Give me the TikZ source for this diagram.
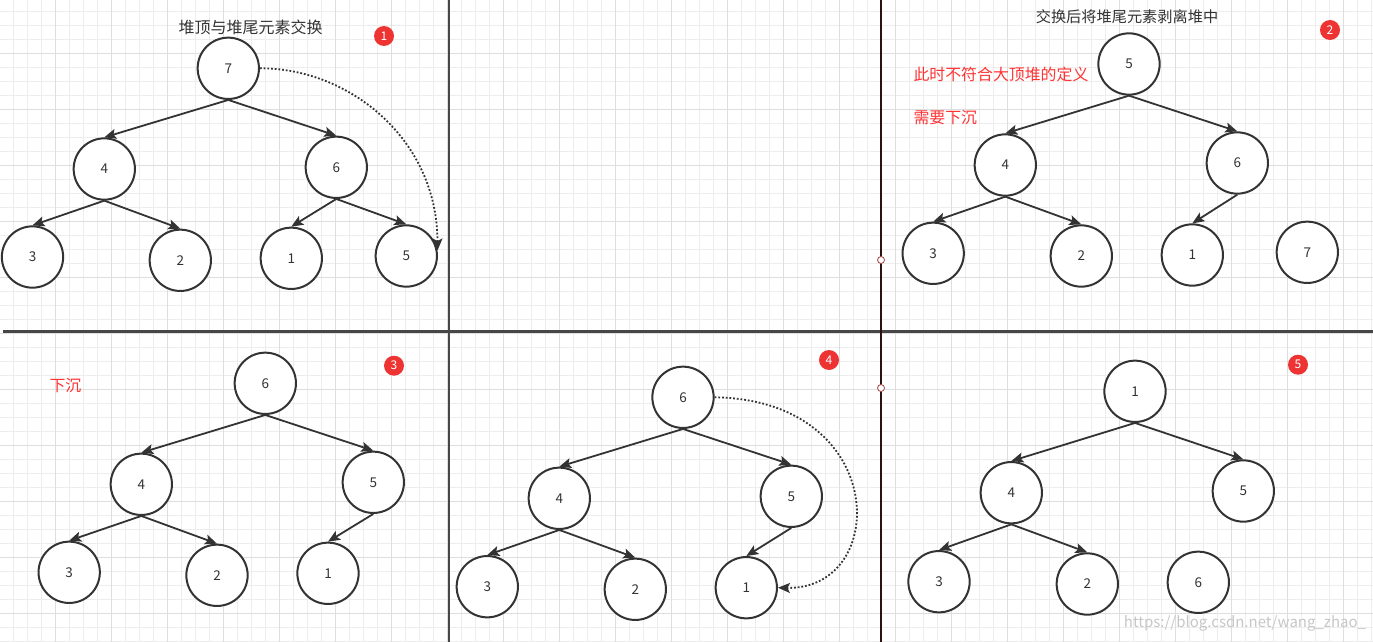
\documentclass[tikz,border=0pt]{standalone}
\usepackage{fontspec}
\setmainfont{Noto Sans CJK SC}
\usetikzlibrary{arrows.meta}
\definecolor{inkgray}{RGB}{51,51,51}
\definecolor{noteRed}{RGB}{255,51,51}
\definecolor{badgeRed}{RGB}{238,51,51}
\definecolor{gridMinor}{RGB}{237,237,237}
\definecolor{gridMajor}{RGB}{222,222,222}
\definecolor{pinRed}{RGB}{170,70,70}

\begin{document}
\begin{tikzpicture}
  [x=1pt,y=-1pt,
   heapnode/.style={circle,draw=inkgray,line width=2pt,fill=white,minimum size=61.3pt,inner sep=0pt,
     text=inkgray,font=\fontsize{13.5}{13.5}\selectfont},
   heaparrow/.style={draw=inkgray,line width=1.8pt,-{Stealth[length=12pt,width=10pt,inset=2.5pt]}},
   swaparrow/.style={draw=inkgray,line width=1.8pt,dash pattern=on 1.8pt off 1.9pt,
     -{Stealth[length=12pt,width=10pt,inset=2.5pt]}},
   badge/.style={circle,fill=badgeRed,minimum size=20pt,inner sep=0pt,text=white,font=\fontsize{12}{12}\selectfont},
   headline/.style={text=inkgray,font=\fontsize{15.5}{15.5}\selectfont},
   note/.style={text=noteRed,anchor=west,inner sep=0pt,font=\fontsize{15.9}{15.9}\selectfont}]

  \fill[white] (0,0) rectangle (1373,642);
  \useasboundingbox (0,0) rectangle (1373,642);

  \foreach \k in {1,...,98}
    \draw[gridMinor,line width=1pt] ({\k*14-0.7},0) -- ({\k*14-0.7},642);
  \foreach \k in {1,...,46}
    \draw[gridMinor,line width=1pt] (0,{\k*14-2.7}) -- (1373,{\k*14-2.7});
  \foreach \k in {4,8,...,96}
    \draw[gridMajor,line width=1pt] ({\k*14-0.7},0) -- ({\k*14-0.7},642);
  \foreach \k in {4,8,...,44}
    \draw[gridMajor,line width=1pt] (0,{\k*14-2.7}) -- (1373,{\k*14-2.7});

  \draw[inkgray!90,line width=2.5pt] (3,331.5) -- (1373,331.5);
  \draw[inkgray!90,line width=2.5pt] (449,0) -- (449,642);
  \draw[black!75!pinRed,line width=2.5pt] (881,0) -- (881,642);
  \draw[pinRed,fill=white,line width=0.8pt] (881,260) circle (3.5);
  \draw[pinRed,fill=white,line width=0.8pt] (881,388) circle (3.5);

  % 1
  \node[headline,font=\fontsize{16}{16}\selectfont] (ta) at (250.5,27) {堆顶与堆尾元素交换};
  \node[badge] (ba) at (384,36) {1};
  \node[heapnode] (a7) at (228.3,68.3) {7};
  \node[heapnode] (a4) at (104.3,169) {4};
  \node[heapnode] (a6) at (336.3,167.3) {6};
  \node[heapnode] (a3) at (32.5,257) {3};
  \node[heapnode] (a2) at (180.3,260.3) {2};
  \node[heapnode] (a1) at (291.3,258.3) {1};
  \node[heapnode] (a5) at (406.3,256) {5};
  \foreach \from/\to in {a7/a4,a7/a6,a4/a3,a4/a2,a6/a1,a6/a5}
    \draw[heaparrow] (\from.south) -- (\to.north);
  \draw[swaparrow] (a7.east) .. controls (350,68) and (437.5,140) .. (a5.10);

  % 2
  \node[headline,font=\fontsize{15.2}{15.2}\selectfont] (tb) at (1127,16.5) {交换后将堆尾元素剥离堆中};
  \node[badge] (bb) at (1330,30) {2};
  \node[note] (nb1) at (913.3,74) {此时不符合大顶堆的定义};
  \node[note] (nb2) at (913.3,118) {需要下沉};
  \node[heapnode] (b5) at (1129,64) {5};
  \node[heapnode] (b4) at (1005.3,165) {4};
  \node[heapnode] (b6) at (1237.3,163) {6};
  \node[heapnode] (b3) at (933.2,253.3) {3};
  \node[heapnode] (b2) at (1081.3,256) {2};
  \node[heapnode] (b1) at (1192.3,255) {1};
  \node[heapnode] (b7) at (1307.3,252.3) {7};
  \foreach \from/\to in {b5/b4,b5/b6,b4/b3,b4/b2,b6/b1}
    \draw[heaparrow] (\from.south) -- (\to.north);

  % 3
  \node[badge] (bc) at (394,365.7) {3};
  \node[note] (nc) at (49.3,386) {下沉};
  \node[heapnode] (c6) at (265.3,383.3) {6};
  \node[heapnode] (c4) at (141.3,484.3) {4};
  \node[heapnode] (c5) at (373.3,482.3) {5};
  \node[heapnode] (c3) at (69.2,572.3) {3};
  \node[heapnode] (c2) at (217,575.3) {2};
  \node[heapnode] (c1) at (328,573.3) {1};
  \foreach \from/\to in {c6/c4,c6/c5,c4/c3,c4/c2,c5/c1}
    \draw[heaparrow] (\from.south) -- (\to.north);

  % 4
  \node[badge] (bd) at (829,360) {4};
  \node[heapnode] (d6) at (683,397.3) {6};
  \node[heapnode] (d4) at (559.3,498.3) {4};
  \node[heapnode] (d5) at (791.3,496.3) {5};
  \node[heapnode] (d3) at (487.3,586.7) {3};
  \node[heapnode] (d2) at (635.3,589.3) {2};
  \node[heapnode] (d1) at (746.3,587.7) {1};
  \foreach \from/\to in {d6/d4,d6/d5,d4/d3,d4/d2,d5/d1}
    \draw[heaparrow] (\from.south) -- (\to.north);
  \draw[swaparrow] (d6.east) .. controls (890,400) and (890,590) .. (d1.east);

  % 5
  \node[badge] (be) at (1298,364.7) {5};
  \node[heapnode] (e1) at (1135,391.3) {1};
  \node[heapnode] (e4) at (1011.3,492.7) {4};
  \node[heapnode] (e5) at (1243.3,491) {5};
  \node[heapnode] (e3) at (939,581.7) {3};
  \node[heapnode] (e2) at (1087.3,584) {2};
  \node[heapnode] (e6) at (1198.3,582.3) {6};
  \foreach \from/\to in {e1/e4,e1/e5,e4/e3,e4/e2}
    \draw[heaparrow] (\from.south) -- (\to.north);

  \node[text=black!22,font=\fontsize{15}{15}\selectfont] (wm) at (1245,623) {https://blog.csdn.net/wang\_zhao\_};

\end{tikzpicture}
\end{document}
